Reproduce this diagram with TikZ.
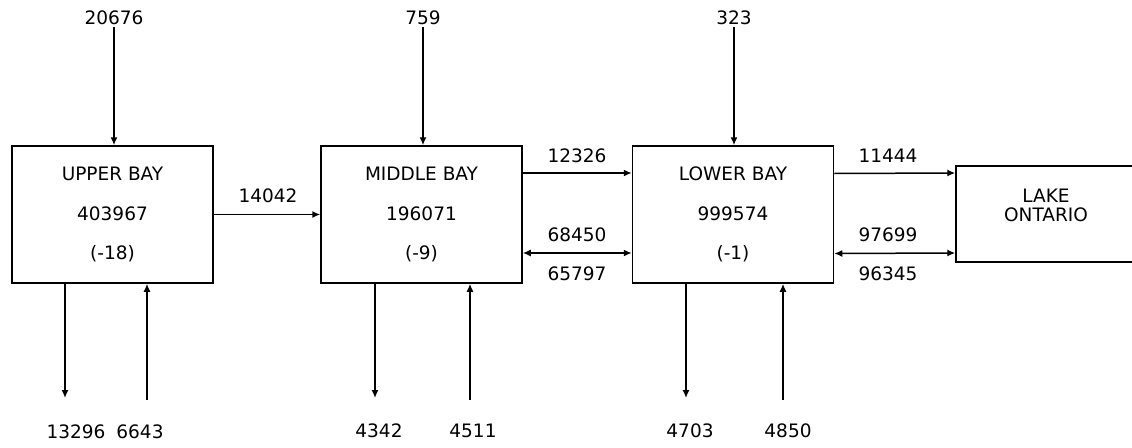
\documentclass[tikz,border=0pt]{standalone}
\usepackage{fontspec}
\setmainfont{DejaVu Sans}
\usetikzlibrary{arrows.meta}

\tikzset{
  bay/.style={draw, line width=1.5pt, minimum width=201pt, minimum height=137pt,
    inner sep=0pt, align=center, font=\fontsize{18.5}{39.5}\selectfont},
  flow/.style={line width=1.5pt, -{Latex[length=8pt,width=7pt]}},
  twoway/.style={line width=1.5pt, {Latex[length=8pt,width=7pt]}-{Latex[length=8pt,width=7pt]}},
  num/.style={inner sep=2pt, font=\fontsize{18.5}{20}\selectfont}
}

\begin{document}
\begin{tikzpicture}[x=1pt,y=-1pt]
\useasboundingbox (0,0) rectangle (1132,447);
% the three bays and the lake
\node[bay] (upper) at (112.5,214.5) {UPPER BAY\\403967\\(-18)};
\node[bay] (middle) at (421.5,214.5) {MIDDLE BAY\\196071\\(-9)};
\node[bay] (lower) at (733,214.5) {LOWER BAY\\999574\\(-1)};
\node[draw, line width=1.5pt, minimum width=180pt, minimum height=96pt, inner sep=0pt,
  text depth=18pt, align=center, font=\fontsize{18.5}{19}\selectfont] (lake) at (1046,214) {LAKE\\ONTARIO};
% inflow from the top
\node[num] (inU) at (114,18) {20676};
\node[num] (inM) at (423,18) {759};
\node[num] (inL) at (734,18) {323};
\draw[flow] (inU.south) -- (inU.south |- upper.north);
\draw[flow] (inM.south) -- (inM.south |- middle.north);
\draw[flow] (inL.south) -- (inL.south |- lower.north);
% exchange between the boxes
\draw[flow] (upper) -- (middle);
\node[num] (qUM) at (268,196) {14042};
\draw[flow] ([yshift=41.5pt]middle.east) -- ([yshift=41.5pt]lower.west);
\draw[twoway] ([yshift=-38.5pt]middle.east) -- ([yshift=-38.5pt]lower.west);
\node[num] (qML) at (577,156) {12326};
\node[num] (qMLa) at (577,235) {68450};
\node[num] (qMLb) at (577,274) {65797};
\draw[flow] ([yshift=41pt]lower.east) -- ([yshift=41pt]lake.west);
\draw[twoway] ([yshift=-39pt]lower.east) -- ([yshift=-39pt]lake.west);
\node[num] (qLO) at (888,156) {11444};
\node[num] (qLOa) at (888,235) {97699};
\node[num] (qLOb) at (888,274) {96345};
% outflow and return at the bottom
\coordinate (outU) at (65,398);
\coordinate (retU) at (147,400);
\coordinate (outM) at (375,398);
\coordinate (retM) at (470,400);
\coordinate (outL) at (686,398);
\coordinate (retL) at (783,400);
\draw[flow] (upper.south -| outU) -- (outU);
\draw[flow] (retU) -- (upper.south -| retU);
\draw[flow] (middle.south -| outM) -- (outM);
\draw[flow] (retM) -- (middle.south -| retM);
\draw[flow] (lower.south -| outL) -- (outL);
\draw[flow] (retL) -- (lower.south -| retL);
\node[num] (qoutU) at (76,432) {13296};
\node[num] (qretU) at (140,432) {6643};
\node[num] (qoutM) at (379,431) {4342};
\node[num] (qretM) at (473,431) {4511};
\node[num] (qoutL) at (690,431) {4703};
\node[num] (qretL) at (788,431) {4850};
\end{tikzpicture}
\end{document}
